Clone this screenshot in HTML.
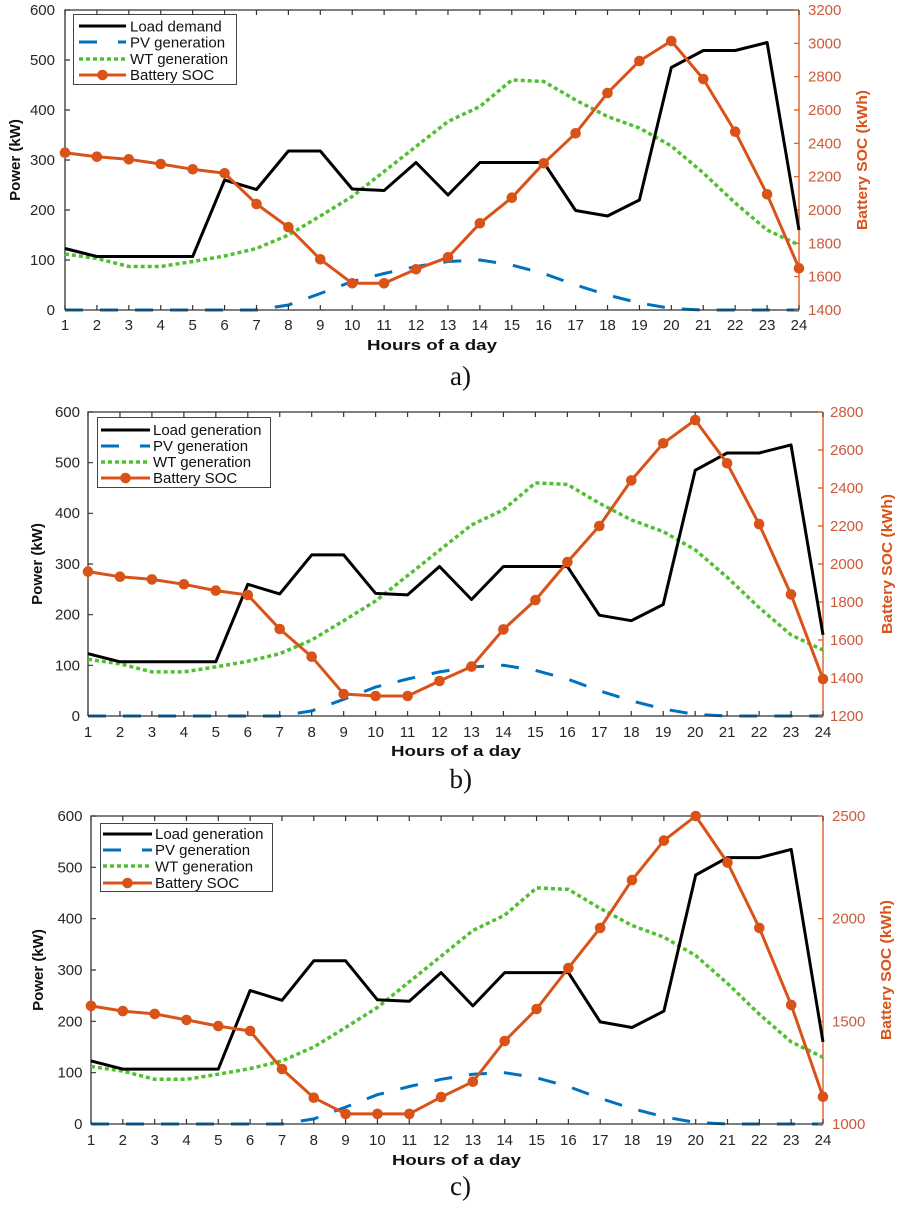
<!DOCTYPE html>
<html>
<head>
<meta charset="utf-8">
<style>
html,body{margin:0;padding:0;background:#fff;}
svg{display:block;}
text{font-family:"Liberation Sans",Arial,sans-serif;}
.tk{font-size:15px;fill:#262626;}
.tr{font-size:15px;fill:#cc5a3a;}
.lg{font-size:15px;fill:#111;}
.xl{font-size:15px;font-weight:bold;fill:#111;}
.yl{font-size:15px;font-weight:bold;fill:#111;}
.yr{font-size:15px;font-weight:bold;fill:#d95319;}
.cap{font-family:"Liberation Serif","Times New Roman",serif;font-size:27px;fill:#111;}
.load{fill:none;stroke:#000;stroke-width:3;stroke-linejoin:round;}
.pv{fill:none;stroke:#0072bd;stroke-width:3;stroke-dasharray:18 17;}
.wt{fill:none;stroke:#50c030;stroke-width:3.5;stroke-dasharray:4 3;}
.soc{fill:none;stroke:#d95319;stroke-width:3;stroke-linejoin:round;marker-start:url(#mk);marker-mid:url(#mk);marker-end:url(#mk);}
.ax{stroke:#333;stroke-width:1.3;fill:none;}
.axr{stroke:#d95319;stroke-width:1.3;fill:none;}
</style>
</head>
<body>
<svg width="900" height="1210" viewBox="0 0 900 1210" xmlns="http://www.w3.org/2000/svg">
<defs>
<marker id="mk" viewBox="-7 -7 14 14" markerWidth="14" markerHeight="14" refX="0" refY="0" markerUnits="userSpaceOnUse"><circle r="5.3" fill="#d95319"/></marker>
</defs>
<rect width="900" height="1210" fill="#fff"/>

<!-- ================= CHART A ================= -->
<g>
<polyline class="pv" points="65,310 96.9,310 128.8,310 160.7,310 192.7,310 224.6,310 256.5,310 288.4,305 320.3,293.5 352.2,281.5 384.1,273.5 416,266.5 448,261.5 479.9,260 511.8,265 543.7,273.5 575.6,285 607.5,295 639.4,303 671.3,308.5 703.3,310 735.2,310 767.1,310 799,310"/>
<path class="ax" d="M65,310 V10 H799 M65,310 H799"/>
<line class="axr" x1="799" y1="10" x2="799" y2="310"/>
<line x1="64.4" y1="307.5" x2="800" y2="307.5" stroke="#333" stroke-width="5" stroke-dasharray="1.2 30.713"/>
<line x1="64.4" y1="12.5" x2="800" y2="12.5" stroke="#333" stroke-width="5" stroke-dasharray="1.2 30.713"/>
<line x1="67.5" y1="310.6" x2="67.5" y2="9" stroke="#333" stroke-width="5" stroke-dasharray="1.2 48.8"/>
<line x1="796.5" y1="310.6" x2="796.5" y2="9" stroke="#d95319" stroke-width="5" stroke-dasharray="1.2 32.133"/>

<polyline class="wt" points="65,254 96.9,258.5 128.8,266.5 160.7,266.5 192.7,261.5 224.6,256 256.5,248.5 288.4,235 320.3,216 352.2,196.5 384.1,171.5 416,146.5 448,121.5 479.9,106.5 511.8,80 543.7,81.5 575.6,100 607.5,116.5 639.4,128 671.3,146 703.3,173 735.2,203 767.1,230 799,245"/>
<polyline class="load" points="65,248.5 96.9,256.5 128.8,256.5 160.7,256.5 192.7,256.5 224.6,180 256.5,189.5 288.4,151 320.3,151 352.2,189 384.1,190.5 416,162.5 448,195 479.9,162.5 511.8,162.5 543.7,162.5 575.6,210.5 607.5,216 639.4,200 671.3,67.5 703.3,50.5 735.2,50.5 767.1,42.5 799,230"/>
<polyline class="soc" points="65,152.7 96.9,156.7 128.8,159.3 160.7,164 192.7,169.3 224.6,173.3 256.5,204 288.4,227.2 320.3,259.3 352.2,283.3 384.1,283.3 416,269.3 448,257.3 479.9,223.3 511.8,197.7 543.7,163.3 575.6,133.3 607.5,93 639.4,61 671.3,41 703.3,79 735.2,131.7 767.1,194.3 799,268.3"/>

<!-- legend -->
<rect x="73.5" y="14.5" width="163" height="70" fill="#fff" stroke="#444" stroke-width="1"/>
<line x1="79" y1="26" x2="126" y2="26" stroke="#000" stroke-width="3"/>
<line x1="79" y1="42" x2="126" y2="42" stroke="#0072bd" stroke-width="3" stroke-dasharray="18 21"/>
<line x1="79" y1="59" x2="126" y2="59" stroke="#50c030" stroke-width="3.5" stroke-dasharray="4 3"/>
<line x1="79" y1="75" x2="126" y2="75" stroke="#d95319" stroke-width="3"/>
<circle cx="102.5" cy="75" r="5.3" fill="#d95319"/>
<text class="lg" x="130" y="31.5">Load demand</text>
<text class="lg" x="130" y="47.5">PV generation</text>
<text class="lg" x="130" y="64">WT generation</text>
<text class="lg" x="130" y="80">Battery SOC</text>

<!-- left ticks labels -->
<g class="tk" text-anchor="end">
<text x="55" y="15">600</text><text x="55" y="65">500</text><text x="55" y="115">400</text><text x="55" y="165">300</text><text x="55" y="215">200</text><text x="55" y="265">100</text><text x="55" y="315">0</text>
</g>
<g class="tr">
<text x="808" y="15">3200</text><text x="808" y="48.3">3000</text><text x="808" y="81.7">2800</text><text x="808" y="115">2600</text><text x="808" y="148.3">2400</text><text x="808" y="181.7">2200</text><text x="808" y="215">2000</text><text x="808" y="248.3">1800</text><text x="808" y="281.7">1600</text><text x="808" y="315">1400</text>
</g>
<g class="tk" text-anchor="middle">
<text x="65" y="330">1</text><text x="96.9" y="330">2</text><text x="128.8" y="330">3</text><text x="160.7" y="330">4</text><text x="192.7" y="330">5</text><text x="224.6" y="330">6</text><text x="256.5" y="330">7</text><text x="288.4" y="330">8</text><text x="320.3" y="330">9</text><text x="352.2" y="330">10</text><text x="384.1" y="330">11</text><text x="416" y="330">12</text><text x="448" y="330">13</text><text x="479.9" y="330">14</text><text x="511.8" y="330">15</text><text x="543.7" y="330">16</text><text x="575.6" y="330">17</text><text x="607.5" y="330">18</text><text x="639.4" y="330">19</text><text x="671.3" y="330">20</text><text x="703.3" y="330">21</text><text x="735.2" y="330">22</text><text x="767.1" y="330">23</text><text x="799" y="330">24</text>
</g>
<text class="xl" x="367" y="350" textLength="130" lengthAdjust="spacingAndGlyphs">Hours of a day</text>
<text class="yl" transform="translate(20,160) rotate(-90)" text-anchor="middle">Power (kW)</text>
<text class="yr" transform="translate(867,160) rotate(-90)" text-anchor="middle" textLength="140" lengthAdjust="spacingAndGlyphs">Battery SOC (kWh)</text>
<text class="cap" x="471" y="385" text-anchor="end">a)</text>
</g>

<!-- ================= CHART B ================= -->
<g>
<polyline class="pv" points="88,716 120,716 151.9,716 183.9,716 215.8,716 247.8,716 279.7,716 311.7,710.9 343.7,699.3 375.6,687.1 407.6,679 439.5,671.9 471.5,666.9 503.4,665.3 535.4,670.4 567.4,679 599.3,690.7 631.3,700.8 663.2,708.9 695.2,714.5 727.1,716 759.1,716 791,716 823,716"/>
<path class="ax" d="M88,716 V412 H823 M88,716 H823"/>
<line class="axr" x1="823" y1="412" x2="823" y2="716"/>
<line x1="87.4" y1="713.5" x2="824" y2="713.5" stroke="#333" stroke-width="5" stroke-dasharray="1.2 30.757"/>
<line x1="87.4" y1="414.5" x2="824" y2="414.5" stroke="#333" stroke-width="5" stroke-dasharray="1.2 30.757"/>
<line x1="90.5" y1="716.6" x2="90.5" y2="411" stroke="#333" stroke-width="5" stroke-dasharray="1.2 49.467"/>
<line x1="820.5" y1="716.6" x2="820.5" y2="411" stroke="#d95319" stroke-width="5" stroke-dasharray="1.2 36.8"/>

<polyline class="wt" points="88,659.3 120,663.8 151.9,671.9 183.9,671.9 215.8,666.9 247.8,661.3 279.7,653.7 311.7,640 343.7,620.7 375.6,601 407.6,575.6 439.5,550.3 471.5,525 503.4,509.8 535.4,482.9 567.4,484.4 599.3,503.2 631.3,519.9 663.2,531.6 695.2,549.8 727.1,577.2 759.1,607.6 791,634.9 823,650.1"/>
<polyline class="load" points="88,653.7 120,661.8 151.9,661.8 183.9,661.8 215.8,661.8 247.8,584.3 279.7,593.9 311.7,554.9 343.7,554.9 375.6,593.4 407.6,594.9 439.5,566.5 471.5,599.5 503.4,566.5 535.4,566.5 567.4,566.5 599.3,615.2 631.3,620.7 663.2,604.5 695.2,470.3 727.1,453 759.1,453 791,444.9 823,634.9"/>
<polyline class="soc" points="88,571.6 120,576.7 151.9,579.4 183.9,584.3 215.8,590.6 247.8,595 279.7,629 311.7,656.7 343.7,694 375.6,696 407.6,696 439.5,681 471.5,666.6 503.4,629.4 535.4,600.1 567.4,562.1 599.3,526 631.3,480.4 663.2,443.3 695.2,420 727.1,463.3 759.1,524.1 791,594.4 823,679"/>

<rect x="97.5" y="417.5" width="173" height="70" fill="#fff" stroke="#444" stroke-width="1"/>
<line x1="101" y1="430" x2="150" y2="430" stroke="#000" stroke-width="3"/>
<line x1="101" y1="446" x2="150" y2="446" stroke="#0072bd" stroke-width="3" stroke-dasharray="18 21"/>
<line x1="101" y1="462" x2="150" y2="462" stroke="#50c030" stroke-width="3.5" stroke-dasharray="4 3"/>
<line x1="101" y1="478" x2="150" y2="478" stroke="#d95319" stroke-width="3"/>
<circle cx="125.5" cy="478" r="5.3" fill="#d95319"/>
<text class="lg" x="153" y="435">Load generation</text>
<text class="lg" x="153" y="451">PV generation</text>
<text class="lg" x="153" y="467">WT generation</text>
<text class="lg" x="153" y="483">Battery SOC</text>

<g class="tk" text-anchor="end">
<text x="80" y="417">600</text><text x="80" y="467.3">500</text><text x="80" y="518">400</text><text x="80" y="569">300</text><text x="80" y="619.7">200</text><text x="80" y="670.3">100</text><text x="80" y="721">0</text>
</g>
<g class="tr">
<text x="830" y="417">2800</text><text x="830" y="455">2600</text><text x="830" y="493">2400</text><text x="830" y="531">2200</text><text x="830" y="569">2000</text><text x="830" y="607">1800</text><text x="830" y="645">1600</text><text x="830" y="683">1400</text><text x="830" y="721">1200</text>
</g>
<g class="tk" text-anchor="middle">
<text x="88" y="737">1</text><text x="120" y="737">2</text><text x="151.9" y="737">3</text><text x="183.9" y="737">4</text><text x="215.8" y="737">5</text><text x="247.8" y="737">6</text><text x="279.7" y="737">7</text><text x="311.7" y="737">8</text><text x="343.7" y="737">9</text><text x="375.6" y="737">10</text><text x="407.6" y="737">11</text><text x="439.5" y="737">12</text><text x="471.5" y="737">13</text><text x="503.4" y="737">14</text><text x="535.4" y="737">15</text><text x="567.4" y="737">16</text><text x="599.3" y="737">17</text><text x="631.3" y="737">18</text><text x="663.2" y="737">19</text><text x="695.2" y="737">20</text><text x="727.1" y="737">21</text><text x="759.1" y="737">22</text><text x="791" y="737">23</text><text x="823" y="737">24</text>
</g>
<text class="xl" x="391" y="756" textLength="130" lengthAdjust="spacingAndGlyphs">Hours of a day</text>
<text class="yl" transform="translate(42,564) rotate(-90)" text-anchor="middle">Power (kW)</text>
<text class="yr" transform="translate(892,564) rotate(-90)" text-anchor="middle" textLength="140" lengthAdjust="spacingAndGlyphs">Battery SOC (kWh)</text>
<text class="cap" x="472" y="788" text-anchor="end">b)</text>
</g>

<!-- ================= CHART C ================= -->
<g>
<polyline class="pv" points="91,1124 122.8,1124 154.7,1124 186.5,1124 218.3,1124 250.1,1124 282,1124 313.8,1118.9 345.6,1107.1 377.4,1094.7 409.3,1086.5 441.1,1079.3 472.9,1074.2 504.7,1072.7 536.6,1077.8 568.4,1086.5 600.2,1098.3 632,1108.6 663.9,1116.8 695.7,1122.5 727.5,1124 759.3,1124 791.2,1124 823,1124"/>
<path class="ax" d="M91,1124 V816 H823 M91,1124 H823"/>
<line class="axr" x1="823" y1="816" x2="823" y2="1124"/>
<line x1="90.4" y1="1121.5" x2="824" y2="1121.5" stroke="#333" stroke-width="5" stroke-dasharray="1.2 30.626"/>
<line x1="90.4" y1="818.5" x2="824" y2="818.5" stroke="#333" stroke-width="5" stroke-dasharray="1.2 30.626"/>
<line x1="93.5" y1="1124.6" x2="93.5" y2="815" stroke="#333" stroke-width="5" stroke-dasharray="1.2 50.133"/>
<line x1="820.5" y1="1124.6" x2="820.5" y2="815" stroke="#d95319" stroke-width="5" stroke-dasharray="1.2 101.467"/>

<polyline class="wt" points="91,1066.5 122.8,1071.1 154.7,1079.3 186.5,1079.3 218.3,1074.2 250.1,1068.6 282,1060.9 313.8,1047 345.6,1027.5 377.4,1007.5 409.3,981.8 441.1,956.2 472.9,930.5 504.7,915.1 536.6,887.9 568.4,889.4 600.2,908.4 632,925.4 663.9,937.2 695.7,955.6 727.5,983.4 759.3,1014.2 791.2,1041.9 823,1057.3"/>
<polyline class="load" points="91,1060.9 122.8,1069.1 154.7,1069.1 186.5,1069.1 218.3,1069.1 250.1,990.5 282,1000.3 313.8,960.8 345.6,960.8 377.4,999.8 409.3,1001.3 441.1,972.6 472.9,1005.9 504.7,972.6 536.6,972.6 568.4,972.6 600.2,1021.9 632,1027.5 663.9,1011.1 695.7,875 727.5,857.6 759.3,857.6 791.2,849.4 823,1041.9"/>
<polyline class="soc" points="91,1005.9 122.8,1011.1 154.7,1013.9 186.5,1019.9 218.3,1026.1 250.1,1031 282,1069 313.8,1097.7 345.6,1113.9 377.4,1113.9 409.3,1113.9 441.1,1097.1 472.9,1081.7 504.7,1041 536.6,1009 568.4,968 600.2,927.9 632,880.1 663.9,840.6 695.7,816 727.5,862.6 759.3,927.9 791.2,1004.9 823,1096.7"/>

<rect x="100.5" y="823.5" width="172" height="68" fill="#fff" stroke="#444" stroke-width="1"/>
<line x1="103" y1="834" x2="152" y2="834" stroke="#000" stroke-width="3"/>
<line x1="103" y1="850" x2="152" y2="850" stroke="#0072bd" stroke-width="3" stroke-dasharray="18 21"/>
<line x1="103" y1="866" x2="152" y2="866" stroke="#50c030" stroke-width="3.5" stroke-dasharray="4 3"/>
<line x1="103" y1="883" x2="152" y2="883" stroke="#d95319" stroke-width="3"/>
<circle cx="127.5" cy="883" r="5.3" fill="#d95319"/>
<text class="lg" x="155" y="839">Load generation</text>
<text class="lg" x="155" y="855">PV generation</text>
<text class="lg" x="155" y="871.5">WT generation</text>
<text class="lg" x="155" y="888">Battery SOC</text>

<g class="tk" text-anchor="end">
<text x="82.5" y="821">600</text><text x="82.5" y="872.3">500</text><text x="82.5" y="923.7">400</text><text x="82.5" y="975">300</text><text x="82.5" y="1026.3">200</text><text x="82.5" y="1077.7">100</text><text x="82.5" y="1129">0</text>
</g>
<g class="tr">
<text x="832" y="821">2500</text><text x="832" y="923.7">2000</text><text x="832" y="1026.3">1500</text><text x="832" y="1129">1000</text>
</g>
<g class="tk" text-anchor="middle">
<text x="91" y="1145">1</text><text x="122.8" y="1145">2</text><text x="154.7" y="1145">3</text><text x="186.5" y="1145">4</text><text x="218.3" y="1145">5</text><text x="250.1" y="1145">6</text><text x="282" y="1145">7</text><text x="313.8" y="1145">8</text><text x="345.6" y="1145">9</text><text x="377.4" y="1145">10</text><text x="409.3" y="1145">11</text><text x="441.1" y="1145">12</text><text x="472.9" y="1145">13</text><text x="504.7" y="1145">14</text><text x="536.6" y="1145">15</text><text x="568.4" y="1145">16</text><text x="600.2" y="1145">17</text><text x="632" y="1145">18</text><text x="663.9" y="1145">19</text><text x="695.7" y="1145">20</text><text x="727.5" y="1145">21</text><text x="759.3" y="1145">22</text><text x="791.2" y="1145">23</text><text x="823" y="1145">24</text>
</g>
<text class="xl" x="392" y="1165" textLength="129" lengthAdjust="spacingAndGlyphs">Hours of a day</text>
<text class="yl" transform="translate(43,970) rotate(-90)" text-anchor="middle">Power (kW)</text>
<text class="yr" transform="translate(891,970) rotate(-90)" text-anchor="middle" textLength="140" lengthAdjust="spacingAndGlyphs">Battery SOC (kWh)</text>
<text class="cap" x="471" y="1195" text-anchor="end">c)</text>
</g>
</svg>
</body>
</html>
